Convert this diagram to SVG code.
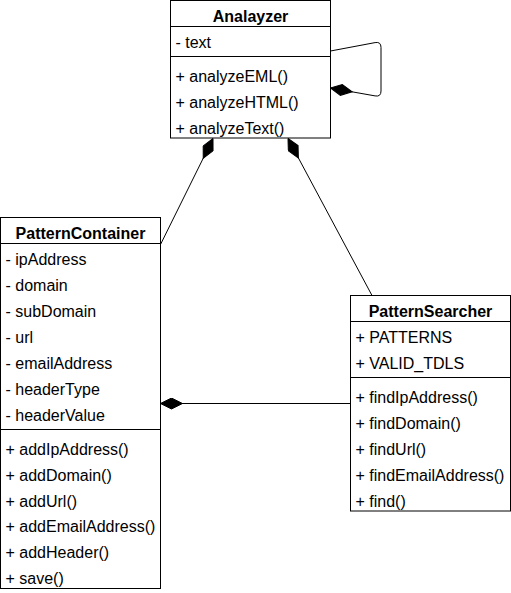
<svg xmlns="http://www.w3.org/2000/svg" width="511" height="593" viewBox="0 0 511 593">
<style>
.box{fill:#fff;stroke:#000;stroke-width:1}
.sep{stroke:#000;stroke-width:1;fill:none}
.t{font-family:"Liberation Sans",Arial,sans-serif;font-size:16px;fill:#000}
.h{font-family:"Liberation Sans",Arial,sans-serif;font-size:16px;font-weight:bold;fill:#000;text-anchor:middle}
.edge{stroke:#000;stroke-width:1;fill:none;marker-start:url(#dia)}
</style>
<defs>
<marker id="dia" markerUnits="userSpaceOnUse" viewBox="0 -6 23 12" refX="0" refY="0" markerWidth="23" markerHeight="12" orient="auto">
<path d="M0,0 L11,-5.5 L22,0 L11,5.5 Z" fill="#000" stroke="#000" stroke-width="1"/>
</marker>
</defs>
<g id="connectors">
<path class="edge" d="M213,138.5 L160.5,244.5"/>
<path class="edge" d="M288,138.5 L372,295.5"/>
<path class="edge" d="M160.5,403.5 L350.5,403.5"/>
<path class="edge" d="M330.5,88 L375.1,95.9 Q381,97 381,91 L381,47.5 Q381,41.5 375.1,42.6 L330.5,51"/>
</g>
<g id="Analyzer">
<rect class="box" x="170.5" y="0.5" width="160" height="137.5"/>
<line class="sep" x1="170.5" y1="26.5" x2="330.5" y2="26.5"/>
<line class="sep" x1="170.5" y1="56.5" x2="330.5" y2="56.5"/>
<text class="h" x="250.5" y="21.5">Analayzer</text>
<text class="t" x="175.5" y="47.5">- text</text>
<text class="t" x="175.5" y="81.5">+ analyzeEML()</text>
<text class="t" x="175.5" y="107.5">+ analyzeHTML()</text>
<text class="t" x="175.5" y="133.5">+ analyzeText()</text>
</g>
<g id="PatternContainer">
<rect class="box" x="0.5" y="217.5" width="160" height="371"/>
<line class="sep" x1="0.5" y1="243.5" x2="160.5" y2="243.5"/>
<line class="sep" x1="0.5" y1="429.5" x2="160.5" y2="429.5"/>
<text class="h" x="80.5" y="238.5">PatternContainer</text>
<text class="t" x="5.5" y="265">- ipAddress</text>
<text class="t" x="5.5" y="291">- domain</text>
<text class="t" x="5.5" y="317">- subDomain</text>
<text class="t" x="5.5" y="343">- url</text>
<text class="t" x="5.5" y="369">- emailAddress</text>
<text class="t" x="5.5" y="395">- headerType</text>
<text class="t" x="5.5" y="421">- headerValue</text>
<text class="t" x="5.5" y="455">+ addIpAddress()</text>
<text class="t" x="5.5" y="480.8">+ addDomain()</text>
<text class="t" x="5.5" y="506.6">+ addUrl()</text>
<text class="t" x="5.5" y="532.4">+ addEmailAddress()</text>
<text class="t" x="5.5" y="558.2">+ addHeader()</text>
<text class="t" x="5.5" y="584">+ save()</text>
</g>
<g id="PatternSearcher">
<rect class="box" x="350.5" y="295.5" width="160" height="215.5"/>
<line class="sep" x1="350.5" y1="321.5" x2="510.5" y2="321.5"/>
<line class="sep" x1="350.5" y1="377.5" x2="510.5" y2="377.5"/>
<text class="h" x="430.5" y="316.5">PatternSearcher</text>
<text class="t" x="355.5" y="342.5">+ PATTERNS</text>
<text class="t" x="355.5" y="368.5">+ VALID_TDLS</text>
<text class="t" x="355.5" y="402.5">+ findIpAddress()</text>
<text class="t" x="355.5" y="428.5">+ findDomain()</text>
<text class="t" x="355.5" y="454.5">+ findUrl()</text>
<text class="t" x="355.5" y="480.5">+ findEmailAddress()</text>
<text class="t" x="355.5" y="506.5">+ find()</text>
</g>
</svg>
